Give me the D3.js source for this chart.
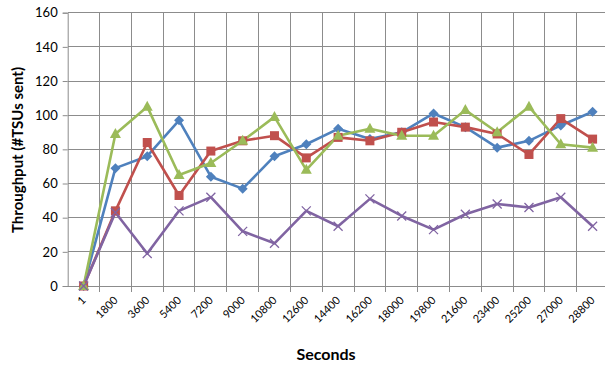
<!DOCTYPE html>
<html><head><meta charset="utf-8">
<script src="https://cdn.jsdelivr.net/npm/d3@7"></script>
<style>body{margin:0;background:#fff;} svg{display:block;font-family:Lato,"Open Sans",sans-serif;}</style>
</head><body>
<svg id="c" width="605" height="366"></svg>
<script>
const categories = ["1","1800","3600","5400","7200","9000","10800","12600","14400","16200","18000","19800","21600","23400","25200","27000","28800"];
const seriesBlue   = [0,69,76,97,64,57,76,83,92,86,90,101,93,81,85,94,102];
const seriesRed    = [0,44,84,53,79,85,88,75,87,85,90,96,93,89,77,98,86];
const seriesGreen  = [0,89,105,65,72,85,99,68,88,92,88,88,103,90,105,83,81];
const seriesPurple = [0,43,19,44,52,32,25,44,35,51,41,33,42,48,46,52,35];
const yTicks = [0,20,40,60,80,100,120,140,160];
const xTitle = "Seconds";
const yTitle = "Throughput (#TSUs sent)";

const series = [
  {name:"Series1", values:seriesBlue, color:"#4F81BD", marker:"diamond"},
  {name:"Series2", values:seriesRed, color:"#C0504D", marker:"square"},
  {name:"Series3", values:seriesGreen, color:"#9BBB59", marker:"triangle"},
  {name:"Series4", values:seriesPurple, color:"#8064A2", marker:"x"}
];

const svg = d3.select("#c");
const pL = 67.7, pR = 608.5, pT = 12.7, pB = 286;
const x = d3.scaleBand().domain(categories).range([pL, pR]).padding(0);
const y = d3.scaleLinear().domain([0,160]).range([pB, pT]);
const cx = c => x(c) + x.bandwidth()/2;

// horizontal gridlines
svg.append("g").selectAll("line").data(yTicks.filter(t=>t>0)).join("line")
  .attr("x1", pL).attr("x2", pR).attr("y1", d=>y(d)).attr("y2", d=>y(d))
  .attr("stroke", "#8c8c8c").attr("stroke-width", 1).attr("shape-rendering","crispEdges");
// vertical gridlines (band boundaries)
const bounds = categories.map(c => x(c) + x.bandwidth());
svg.append("g").selectAll("line").data(bounds).join("line")
  .attr("x1", d=>d).attr("x2", d=>d).attr("y1", pT).attr("y2", pB + 6)
  .attr("stroke", "#8c8c8c").attr("stroke-width", 1).attr("shape-rendering","crispEdges");

// axes via d3
const yAxis = d3.axisLeft(y).tickValues(yTicks).tickSize(5).tickPadding(5);
const gy = svg.append("g").attr("transform", `translate(${pL},0)`).call(yAxis);
gy.select(".domain").attr("stroke", "#8c8c8c");
gy.selectAll(".tick line").attr("stroke", "#8c8c8c");
gy.selectAll(".tick text").attr("font-size", 13).attr("fill", "#000").attr("font-family","Lato, sans-serif");

const xAxis = d3.axisBottom(x).tickSize(0).tickPadding(0);
const gx = svg.append("g").attr("transform", `translate(0,${pB})`).call(xAxis);
gx.select(".domain").attr("stroke", "#8c8c8c").attr("d", `M${pL},0.5H${pR}`);
gx.selectAll(".tick text")
  .attr("font-size", 11).attr("fill", "#000").attr("font-family","Lato, sans-serif")
  .attr("text-anchor", "end").attr("dy", null).attr("y", 0)
  .attr("transform", "translate(3,15) rotate(-45)");

// lines
const line = d3.line().x((d,i)=>cx(categories[i])).y(d=>y(d));
series.forEach(s => {
  svg.append("path").datum(s.values).attr("d", line)
    .attr("fill","none").attr("stroke", s.color).attr("stroke-width", 2.6).attr("stroke-linejoin","round");
});
// markers
series.forEach(s => {
  const g = svg.append("g");
  s.values.forEach((v,i) => {
    const px = cx(categories[i]), py = y(v);
    if (s.marker === "diamond") {
      g.append("path").attr("d", `M${px},${py-5}L${px+5},${py}L${px},${py+5}L${px-5},${py}Z`).attr("fill", s.color);
    } else if (s.marker === "square") {
      g.append("rect").attr("x", px-4.5).attr("y", py-4.5).attr("width", 9).attr("height", 9).attr("fill", s.color);
    } else if (s.marker === "triangle") {
      g.append("path").attr("d", `M${px},${py-6}L${px+5.5},${py+4}L${px-5.5},${py+4}Z`).attr("fill", s.color);
    } else {
      g.append("path").attr("d", `M${px-4.5},${py-4.5}L${px+4.5},${py+4.5}M${px+4.5},${py-4.5}L${px-4.5},${py+4.5}`)
        .attr("stroke", s.color).attr("stroke-width", 1.3);
    }
  });
});

// titles
svg.append("text").attr("x", 326).attr("y", 360).attr("text-anchor","middle")
  .attr("font-size", 16).attr("font-weight","bold").text(xTitle);
svg.append("text").attr("transform", "translate(23,150) rotate(-90)").attr("text-anchor","middle")
  .attr("font-size", 15).attr("font-weight","bold").text(yTitle);
</script>
</body></html>
